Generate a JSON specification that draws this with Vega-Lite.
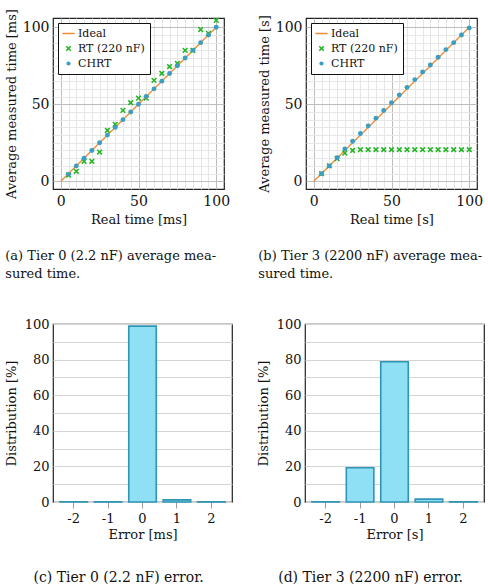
{
  "$schema": "https://vega.github.io/schema/vega-lite/v6.json",
  "padding": {"left": 4, "top": 7, "right": 5, "bottom": 2},
  "background": "white",
  "config": {
    "font": "DejaVu Serif",
    "view": {"stroke": "#222222", "strokeWidth": 1.2},
    "axis": {
      "labelFont": "DejaVu Serif",
      "titleFont": "DejaVu Serif",
      "labelColor": "#111111",
      "titleColor": "#111111",
      "titleFontWeight": "normal",
      "domain": false
    },
    "legend": {"labelFont": "DejaVu Serif"},
    "title": {"font": "DejaVu Serif", "color": "#111111", "fontWeight": "normal"}
  },
  "datasets": {
    "tier0": [
      {"series": "Ideal", "x": 0, "y": 0}, {"series": "Ideal", "x": 100, "y": 100},
      {"series": "RT (220 nF)", "x": 5, "y": 4}, {"series": "RT (220 nF)", "x": 10, "y": 6.5},
      {"series": "RT (220 nF)", "x": 15, "y": 13}, {"series": "RT (220 nF)", "x": 20, "y": 13},
      {"series": "RT (220 nF)", "x": 25, "y": 19}, {"series": "RT (220 nF)", "x": 30, "y": 33},
      {"series": "RT (220 nF)", "x": 35, "y": 37}, {"series": "RT (220 nF)", "x": 40, "y": 46},
      {"series": "RT (220 nF)", "x": 45, "y": 51}, {"series": "RT (220 nF)", "x": 50, "y": 54},
      {"series": "RT (220 nF)", "x": 55, "y": 54}, {"series": "RT (220 nF)", "x": 60, "y": 65.5},
      {"series": "RT (220 nF)", "x": 65, "y": 70}, {"series": "RT (220 nF)", "x": 70, "y": 74.5},
      {"series": "RT (220 nF)", "x": 75, "y": 76.5}, {"series": "RT (220 nF)", "x": 80, "y": 85},
      {"series": "RT (220 nF)", "x": 85, "y": 85}, {"series": "RT (220 nF)", "x": 90, "y": 98.5},
      {"series": "RT (220 nF)", "x": 95, "y": 96}, {"series": "RT (220 nF)", "x": 100, "y": 104.5},
      {"series": "CHRT", "x": 5, "y": 4.5}, {"series": "CHRT", "x": 10, "y": 10},
      {"series": "CHRT", "x": 15, "y": 15}, {"series": "CHRT", "x": 20, "y": 20},
      {"series": "CHRT", "x": 25, "y": 25}, {"series": "CHRT", "x": 30, "y": 30},
      {"series": "CHRT", "x": 35, "y": 35}, {"series": "CHRT", "x": 40, "y": 40},
      {"series": "CHRT", "x": 45, "y": 45}, {"series": "CHRT", "x": 50, "y": 50},
      {"series": "CHRT", "x": 55, "y": 55}, {"series": "CHRT", "x": 60, "y": 60},
      {"series": "CHRT", "x": 65, "y": 65}, {"series": "CHRT", "x": 70, "y": 70},
      {"series": "CHRT", "x": 75, "y": 75}, {"series": "CHRT", "x": 80, "y": 80},
      {"series": "CHRT", "x": 85, "y": 85}, {"series": "CHRT", "x": 90, "y": 90},
      {"series": "CHRT", "x": 95, "y": 95}, {"series": "CHRT", "x": 100, "y": 100}
    ],
    "tier3": [
      {"series": "Ideal", "x": 0, "y": 0}, {"series": "Ideal", "x": 100, "y": 100},
      {"series": "RT (220 nF)", "x": 5, "y": 5}, {"series": "RT (220 nF)", "x": 10, "y": 10},
      {"series": "RT (220 nF)", "x": 15, "y": 14.7}, {"series": "RT (220 nF)", "x": 20, "y": 18.3},
      {"series": "RT (220 nF)", "x": 25, "y": 20}, {"series": "RT (220 nF)", "x": 30, "y": 20.5},
      {"series": "RT (220 nF)", "x": 35, "y": 20.5}, {"series": "RT (220 nF)", "x": 40, "y": 20.5},
      {"series": "RT (220 nF)", "x": 45, "y": 20.5}, {"series": "RT (220 nF)", "x": 50, "y": 20.5},
      {"series": "RT (220 nF)", "x": 55, "y": 20.5}, {"series": "RT (220 nF)", "x": 60, "y": 20.5},
      {"series": "RT (220 nF)", "x": 65, "y": 20.5}, {"series": "RT (220 nF)", "x": 70, "y": 20.5},
      {"series": "RT (220 nF)", "x": 75, "y": 20.5}, {"series": "RT (220 nF)", "x": 80, "y": 20.5},
      {"series": "RT (220 nF)", "x": 85, "y": 20.5}, {"series": "RT (220 nF)", "x": 90, "y": 20.5},
      {"series": "RT (220 nF)", "x": 95, "y": 20.5}, {"series": "RT (220 nF)", "x": 100, "y": 20.5},
      {"series": "CHRT", "x": 5, "y": 5}, {"series": "CHRT", "x": 10, "y": 10},
      {"series": "CHRT", "x": 15, "y": 15.3}, {"series": "CHRT", "x": 20, "y": 21},
      {"series": "CHRT", "x": 25, "y": 26}, {"series": "CHRT", "x": 30, "y": 31},
      {"series": "CHRT", "x": 35, "y": 36}, {"series": "CHRT", "x": 40, "y": 41},
      {"series": "CHRT", "x": 45, "y": 46}, {"series": "CHRT", "x": 50, "y": 51},
      {"series": "CHRT", "x": 55, "y": 56}, {"series": "CHRT", "x": 60, "y": 61},
      {"series": "CHRT", "x": 65, "y": 66}, {"series": "CHRT", "x": 70, "y": 71},
      {"series": "CHRT", "x": 75, "y": 75.5}, {"series": "CHRT", "x": 80, "y": 80.5},
      {"series": "CHRT", "x": 85, "y": 85.5}, {"series": "CHRT", "x": 90, "y": 90},
      {"series": "CHRT", "x": 95, "y": 95}, {"series": "CHRT", "x": 100, "y": 99.5}
    ],
    "err0": [
      {"err": "-2", "pct": 0.1}, {"err": "-1", "pct": 0.1}, {"err": "0", "pct": 98.8},
      {"err": "1", "pct": 1.2}, {"err": "2", "pct": 0.1}
    ],
    "err3": [
      {"err": "-2", "pct": 0.1}, {"err": "-1", "pct": 19.2}, {"err": "0", "pct": 78.8},
      {"err": "1", "pct": 1.6}, {"err": "2", "pct": 0.1}
    ]
  },
  "spacing": 35,
  "vconcat": [
    {
      "bounds": "flush",
      "spacing": 82,
      "resolve": {"scale": {"color": "independent"}, "legend": {"color": "independent"}},
      "hconcat": [
        {
          "width": 171,
          "height": 171,
          "title": {
            "text": ["(a) Tier 0 (2.2 nF) average mea-", "sured time."],
            "orient": "bottom", "anchor": "start", "frame": "bounds",
            "fontSize": 13, "lineHeight": 18, "offset": 24
          },
          "data": {"name": "tier0"},
          "encoding": {
            "x": {
              "field": "x", "type": "quantitative",
              "scale": {"domain": [-5, 105], "nice": false, "zero": false},
              "axis": {
                "title": "Real time [ms]",
                "values": [0, 5, 10, 15, 20, 25, 30, 35, 40, 45, 50, 55, 60, 65, 70, 75, 80, 85, 90, 95, 100],
                "labelExpr": "datum.value % 50 === 0 ? datum.label : ''",
                "ticks": false, "labelFontSize": 14, "titleFontSize": 13, "labelPadding": 5, "titlePadding": 5,
                "gridColor": {"condition": {"test": "datum.value % 50 === 0", "value": "#bdbdbd"}, "value": "#e6e6e6"}
              }
            },
            "y": {
              "field": "y", "type": "quantitative",
              "scale": {"domain": [-5, 106], "nice": false, "zero": false},
              "axis": {
                "title": "Average measured time [ms]",
                "values": [0, 5, 10, 15, 20, 25, 30, 35, 40, 45, 50, 55, 60, 65, 70, 75, 80, 85, 90, 95, 100],
                "labelExpr": "datum.value % 50 === 0 ? datum.label : ''",
                "ticks": false, "labelFontSize": 14, "titleFontSize": 13, "labelPadding": 4, "titlePadding": 4,
                "gridColor": {"condition": {"test": "datum.value % 50 === 0", "value": "#bdbdbd"}, "value": "#e6e6e6"}
              }
            },
            "color": {
              "field": "series", "type": "nominal",
              "scale": {"domain": ["Ideal", "RT (220 nF)", "CHRT"], "range": ["#ee8c35", "#1fb51f", "#3b9dbf"]},
              "legend": {
                "title": null, "orient": "top-left", "offset": 5,
                "fillColor": "white", "strokeColor": "#111111", "padding": 5,
                "labelFontSize": 11, "labelColor": "#111111",
                "rowPadding": 3, "symbolOffset": 0,
                "encode": {"symbols": {"update": {
                  "shape": {"signal": "datum.value === 'Ideal' ? 'stroke' : datum.value === 'CHRT' ? 'circle' : 'M-1,-1L1,1M-1,1L1,-1'"},
                  "size": {"signal": "datum.value === 'Ideal' ? 150 : datum.value === 'CHRT' ? 18 : 20"},
                  "stroke": {"signal": "datum.value === 'Ideal' ? '#ee8c35' : datum.value === 'CHRT' ? '#3b9dbf' : '#1fb51f'"},
                  "fill": {"signal": "datum.value === 'CHRT' ? '#3b9dbf' : 'transparent'"},
                  "strokeWidth": {"signal": "datum.value === 'CHRT' ? 0 : 1.5"},
                  "opacity": {"value": 1}
                }}}
              }
            }
          },
          "layer": [
            {"transform": [{"filter": "datum.series === 'Ideal'"}], "mark": {"type": "line", "strokeWidth": 1.3}},
            {"transform": [{"filter": "datum.series === 'RT (220 nF)'"}], "mark": {"type": "point", "shape": "M-1,-1L1,1M-1,1L1,-1", "size": 22, "strokeWidth": 1.5, "opacity": 1, "filled": false}},
            {"transform": [{"filter": "datum.series === 'CHRT'"}], "mark": {"type": "circle", "size": 24, "opacity": 1}}
          ]
        },
        {
          "width": 171,
          "height": 171,
          "title": {
            "text": ["(b) Tier 3 (2200 nF) average mea-", "sured time."],
            "orient": "bottom", "anchor": "start", "frame": "bounds",
            "fontSize": 13, "lineHeight": 18, "offset": 24
          },
          "data": {"name": "tier3"},
          "encoding": {
            "x": {
              "field": "x", "type": "quantitative",
              "scale": {"domain": [-5, 105], "nice": false, "zero": false},
              "axis": {
                "title": "Real time [s]",
                "values": [0, 5, 10, 15, 20, 25, 30, 35, 40, 45, 50, 55, 60, 65, 70, 75, 80, 85, 90, 95, 100],
                "labelExpr": "datum.value % 50 === 0 ? datum.label : ''",
                "ticks": false, "labelFontSize": 14, "titleFontSize": 13, "labelPadding": 5, "titlePadding": 5,
                "gridColor": {"condition": {"test": "datum.value % 50 === 0", "value": "#bdbdbd"}, "value": "#e6e6e6"}
              }
            },
            "y": {
              "field": "y", "type": "quantitative",
              "scale": {"domain": [-5, 106], "nice": false, "zero": false},
              "axis": {
                "title": "Average measured time [s]",
                "values": [0, 5, 10, 15, 20, 25, 30, 35, 40, 45, 50, 55, 60, 65, 70, 75, 80, 85, 90, 95, 100],
                "labelExpr": "datum.value % 50 === 0 ? datum.label : ''",
                "ticks": false, "labelFontSize": 14, "titleFontSize": 13, "labelPadding": 4, "titlePadding": 4,
                "gridColor": {"condition": {"test": "datum.value % 50 === 0", "value": "#bdbdbd"}, "value": "#e6e6e6"}
              }
            },
            "color": {
              "field": "series", "type": "nominal",
              "scale": {"domain": ["Ideal", "RT (220 nF)", "CHRT"], "range": ["#ee8c35", "#1fb51f", "#3b9dbf"]},
              "legend": {
                "title": null, "orient": "top-left", "offset": 5,
                "fillColor": "white", "strokeColor": "#111111", "padding": 5,
                "labelFontSize": 11, "labelColor": "#111111",
                "rowPadding": 3, "symbolOffset": 0,
                "encode": {"symbols": {"update": {
                  "shape": {"signal": "datum.value === 'Ideal' ? 'stroke' : datum.value === 'CHRT' ? 'circle' : 'M-1,-1L1,1M-1,1L1,-1'"},
                  "size": {"signal": "datum.value === 'Ideal' ? 150 : datum.value === 'CHRT' ? 18 : 20"},
                  "stroke": {"signal": "datum.value === 'Ideal' ? '#ee8c35' : datum.value === 'CHRT' ? '#3b9dbf' : '#1fb51f'"},
                  "fill": {"signal": "datum.value === 'CHRT' ? '#3b9dbf' : 'transparent'"},
                  "strokeWidth": {"signal": "datum.value === 'CHRT' ? 0 : 1.5"},
                  "opacity": {"value": 1}
                }}}
              }
            }
          },
          "layer": [
            {"transform": [{"filter": "datum.series === 'Ideal'"}], "mark": {"type": "line", "strokeWidth": 1.3}},
            {"transform": [{"filter": "datum.series === 'RT (220 nF)'"}], "mark": {"type": "point", "shape": "M-1,-1L1,1M-1,1L1,-1", "size": 22, "strokeWidth": 1.5, "opacity": 1, "filled": false}},
            {"transform": [{"filter": "datum.series === 'CHRT'"}], "mark": {"type": "circle", "size": 24, "opacity": 1}}
          ]
        }
      ]
    },
    {
      "bounds": "flush",
      "spacing": 73,
      "hconcat": [
        {
          "width": 179,
          "height": 178,
          "title": {
            "text": "(c) Tier 0 (2.2 nF) error.",
            "orient": "bottom", "anchor": "middle", "frame": "bounds",
            "fontSize": 14, "offset": 30
          },
          "data": {"name": "err0"},
          "mark": {"type": "bar", "fill": "#8fdff5", "stroke": "#2f95b5", "strokeWidth": 1.6},
          "encoding": {
            "x": {
              "field": "err", "type": "ordinal", "sort": ["-2", "-1", "0", "1", "2"],
              "scale": {"paddingInner": 0.2, "paddingOuter": 0.2},
              "axis": {"title": "Error [ms]", "labelAngle": 0, "labelFontSize": 13, "titleFontSize": 13,
                       "tickColor": "#999999", "tickSize": 6, "labelPadding": 4, "titlePadding": 3}
            },
            "y": {
              "field": "pct", "type": "quantitative",
              "scale": {"domain": [0, 100], "nice": false},
              "axis": {"title": "Distribution [%]", "values": [0, 10, 20, 30, 40, 50, 60, 70, 80, 90, 100],
                       "labelExpr": "datum.value % 20 === 0 ? datum.label : ''",
                       "ticks": false, "labelFontSize": 13, "titleFontSize": 13, "gridColor": "#d4d4d4",
                       "labelPadding": 4, "titlePadding": 6}
            }
          }
        },
        {
          "width": 179,
          "height": 178,
          "title": {
            "text": "(d) Tier 3 (2200 nF) error.",
            "orient": "bottom", "anchor": "middle", "frame": "bounds",
            "fontSize": 14, "offset": 30
          },
          "data": {"name": "err3"},
          "mark": {"type": "bar", "fill": "#8fdff5", "stroke": "#2f95b5", "strokeWidth": 1.6},
          "encoding": {
            "x": {
              "field": "err", "type": "ordinal", "sort": ["-2", "-1", "0", "1", "2"],
              "scale": {"paddingInner": 0.2, "paddingOuter": 0.2},
              "axis": {"title": "Error [s]", "labelAngle": 0, "labelFontSize": 13, "titleFontSize": 13,
                       "tickColor": "#999999", "tickSize": 6, "labelPadding": 4, "titlePadding": 3}
            },
            "y": {
              "field": "pct", "type": "quantitative",
              "scale": {"domain": [0, 100], "nice": false},
              "axis": {"title": "Distribution [%]", "values": [0, 10, 20, 30, 40, 50, 60, 70, 80, 90, 100],
                       "labelExpr": "datum.value % 20 === 0 ? datum.label : ''",
                       "ticks": false, "labelFontSize": 13, "titleFontSize": 13, "gridColor": "#d4d4d4",
                       "labelPadding": 4, "titlePadding": 6}
            }
          }
        }
      ]
    }
  ]
}
